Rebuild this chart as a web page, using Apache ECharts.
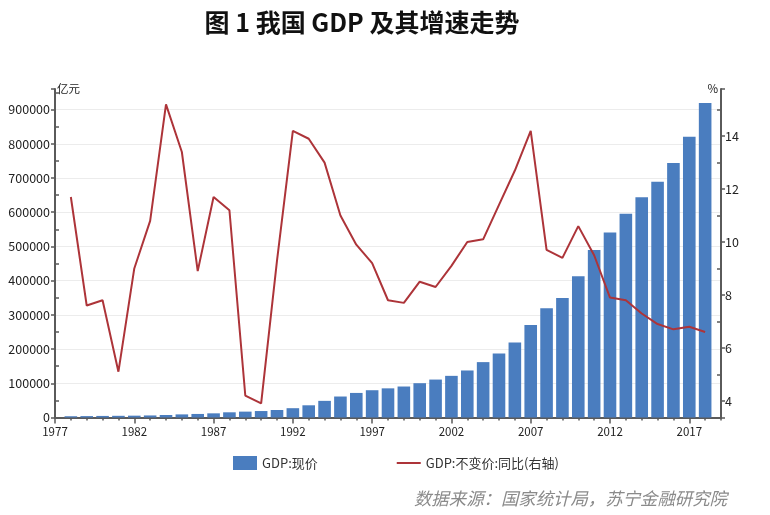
<!DOCTYPE html>
<html>
<head>
<meta charset="utf-8">
<script src="https://cdn.jsdelivr.net/npm/echarts@6/dist/echarts.min.js"></script>
<style>
html,body{margin:0;padding:0;background:#fff;}
#c{width:770px;height:515px;}
</style>
</head>
<body>
<div id="c"></div>
<script>
const years = [1978,1979,1980,1981,1982,1983,1984,1985,1986,1987,1988,1989,1990,1991,1992,1993,1994,1995,1996,1997,1998,1999,2000,2001,2002,2003,2004,2005,2006,2007,2008,2009,2010,2011,2012,2013,2014,2015,2016,2017,2018];
const gdpCurrent = [3679,4101,4588,4936,5373,6021,7279,9099,10376,12175,15180,17180,18873,22006,27195,35673,48638,61340,71814,79715,85196,90564,100280,110863,121717,137422,161840,187319,219439,270232,319516,349081,413030,489301,540367,595244,643974,689052,743585,820754,919281];
const gdpGrowth = [11.7,7.6,7.8,5.1,9.0,10.8,15.2,13.4,8.9,11.7,11.2,4.2,3.9,9.3,14.2,13.9,13.0,11.0,9.9,9.2,7.8,7.7,8.5,8.3,9.1,10.0,10.1,11.4,12.7,14.2,9.7,9.4,10.6,9.5,7.9,7.8,7.3,6.9,6.7,6.8,6.6];
const xLabelYears = [1977,1982,1987,1992,1997,2002,2007,2012,2017];
const seriesNames = ['GDP:现价','GDP:不变价:同比(右轴)'];
const titleText = '图 1 我国 GDP 及其增速走势';
const sourceText = '数据来源：国家统计局，苏宁金融研究院';

const FONT = '"Noto Sans CJK SC", "Noto Sans", sans-serif';
const AX = '#5a5a5a';
const plain = v => String(Math.round(v));

const chart = echarts.init(document.getElementById('c'), null, {renderer:'canvas'});
chart.setOption({
  backgroundColor:'#ffffff',
  animation:false,
  textStyle:{fontFamily:FONT},
  title:[
    {text:titleText, left:357, top:5, textAlign:'center',
     textStyle:{fontFamily:FONT, fontSize:25, fontWeight:'bold', color:'#111'}},
    {text:sourceText, left:722, top:485, textAlign:'right',
     textStyle:{fontFamily:FONT, fontSize:17.4, fontStyle:'italic', fontWeight:'normal', color:'#8a8a8a'}}
  ],
  legend:{
    left:228, top:451, itemWidth:24, itemHeight:14, itemGap:78,
    textStyle:{fontFamily:FONT, fontSize:13, color:'#333'},
    data:[
      {name:seriesNames[0], icon:'rect'},
      {name:seriesNames[1], itemStyle:{color:'rgba(0,0,0,0)', borderWidth:0, opacity:0}}
    ]
  },
  grid:{left:55, right:49, top:89, bottom:97.5, containLabel:false},
  xAxis:[
    {type:'value', min:1977, max:2019, interval:1, position:'bottom',
     axisLine:{show:true, lineStyle:{color:AX, width:2}},
     axisTick:{show:true, length:3, lineStyle:{color:AX, width:1.5}},
     axisLabel:{show:false}, splitLine:{show:false}},
    {type:'value', min:1977, max:2019, interval:5, position:'bottom',
     axisLine:{show:false},
     axisTick:{show:true, length:6, lineStyle:{color:AX, width:1.5}, customValues:xLabelYears},
     axisLabel:{show:true, fontSize:11.5, color:'#222', margin:8, customValues:xLabelYears, formatter:plain},
     splitLine:{show:false}}
  ],
  yAxis:[
    {type:'value', min:0, max:960000, interval:100000, position:'left',
     name:'亿元', nameLocation:'end', nameGap:0,
     nameTextStyle:{fontFamily:FONT, fontSize:11.5, color:'#222', align:'left', verticalAlign:'middle', padding:[0,0,0,2]},
     axisLine:{show:true, lineStyle:{color:AX, width:2}},
     axisTick:{show:true, length:4, lineStyle:{color:AX, width:1.5}},
     minorTick:{show:true, splitNumber:2, length:-4, lineStyle:{color:AX, width:1.5}},
     axisLabel:{fontSize:12.5, color:'#222', margin:5, showMaxLabel:false, formatter:plain},
     splitLine:{show:true, showMaxLine:false, lineStyle:{color:'#ececec', width:1}}},
    {type:'value', min:3.37, max:15.78, splitNumber:6, position:'right',
     name:'%', nameLocation:'end', nameGap:0,
     nameTextStyle:{fontFamily:FONT, fontSize:11.5, color:'#222', align:'right', verticalAlign:'middle', padding:[0,3,0,0]},
     axisLine:{show:true, lineStyle:{color:AX, width:2}},
     axisTick:{show:true, length:4, lineStyle:{color:AX, width:1.5}},
     minorTick:{show:true, splitNumber:2, length:-4, lineStyle:{color:AX, width:1.5}},
     axisLabel:{fontSize:12.5, color:'#222', margin:4, showMinLabel:false, showMaxLabel:false, formatter:plain},
     splitLine:{show:false}}
  ],
  series:[
    {name:seriesNames[0], type:'bar', xAxisIndex:0, yAxisIndex:0, barWidth:12.6,
     itemStyle:{color:'#4a7dbf'},
     data:years.map((y,i)=>[y, gdpCurrent[i]])},
    {name:seriesNames[1], type:'line', xAxisIndex:0, yAxisIndex:1, symbol:'none', showSymbol:false,
     lineStyle:{color:'#ad3439', width:2}, itemStyle:{color:'#ad3439'},
     data:years.map((y,i)=>[y, gdpGrowth[i]])}
  ]
});
</script>
</body>
</html>
